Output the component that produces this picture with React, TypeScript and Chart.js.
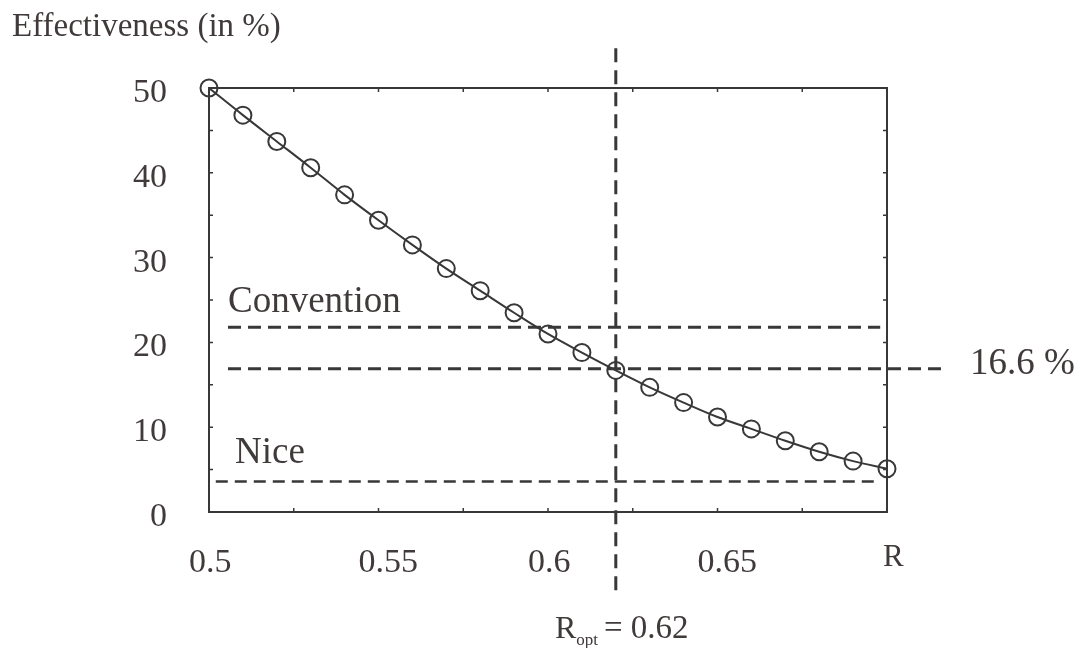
import React, { useEffect, useRef } from "react";
import { Chart, registerables } from "chart.js";

Chart.register(...registerables);

const rValues = [0.5, 0.51, 0.52, 0.53, 0.54, 0.55, 0.56, 0.57, 0.58, 0.59, 0.6, 0.61, 0.62, 0.63, 0.64, 0.65, 0.66, 0.67, 0.68, 0.69, 0.7];
const effectiveness = [50, 46.8, 43.7, 40.6, 37.4, 34.4, 31.5, 28.7, 26.1, 23.5, 21.0, 18.8, 16.7, 14.7, 12.9, 11.2, 9.8, 8.4, 7.1, 6.0, 5.1];

const xTickValues = [0.5, 0.55, 0.6, 0.65];
const xMinorTicks = [0.525, 0.55, 0.575, 0.6, 0.625, 0.65, 0.675];
const yMinorTicks = [5, 10, 15, 20, 25, 30, 35, 40, 45];

const conventionLevel = 21.8;
const conventionRange = [0.5056, 0.698];
const optimumLevel = 16.9;
const optimumRange = [0.5056, 0.7177];
const niceLevel = 3.6;
const niceRange = [0.502, 0.698];
const rOpt = 0.62;
const rOptRange = [54.7, -9.8];

const INK = "#383838";
const TEXT = "#403a3a";
const SERIF = "'Liberation Serif', 'Times New Roman', serif";

const framePlugin = {
  id: "frame",
  afterDatasetsDraw(chart: any) {
    const { ctx, chartArea } = chart;
    const xs = chart.scales.x;
    const ys = chart.scales.y;
    const { left, right, top, bottom } = chartArea;
    ctx.save();
    ctx.strokeStyle = INK;
    ctx.lineWidth = 2;
    ctx.beginPath();
    ctx.moveTo(left, top);
    ctx.lineTo(right, top);
    ctx.lineTo(right, bottom);
    ctx.lineTo(left, bottom);
    ctx.closePath();
    ctx.stroke();
    ctx.lineWidth = 1.5;
    ctx.beginPath();
    for (const v of xMinorTicks) {
      const px = xs.getPixelForValue(v);
      ctx.moveTo(px, bottom);
      ctx.lineTo(px, bottom - 4);
      ctx.moveTo(px, top);
      ctx.lineTo(px, top + 4);
    }
    for (const v of yMinorTicks) {
      const py = ys.getPixelForValue(v);
      ctx.moveTo(left, py);
      ctx.lineTo(left + 4, py);
      ctx.moveTo(right, py);
      ctx.lineTo(right - 4, py);
    }
    ctx.stroke();

    ctx.fillStyle = TEXT;
    ctx.textBaseline = "alphabetic";
    ctx.textAlign = "left";
    ctx.font = `33px ${SERIF}`;
    ctx.fillText("Effectiveness (in %)", 12, 36);

    ctx.font = `37px ${SERIF}`;
    ctx.fillText("Convention", 228, 312);
    ctx.fillText("Nice", 235, 463);
    ctx.fillText("16.6 %", 970, 374);

    ctx.font = `31px ${SERIF}`;
    ctx.fillText("R", 883, 566);

    ctx.font = `32px ${SERIF}`;
    ctx.fillText("R", 555, 638);
    const rw = ctx.measureText("R").width;
    ctx.font = `17px ${SERIF}`;
    ctx.fillText("opt", 555 + rw, 645);
    ctx.font = `33px ${SERIF}`;
    ctx.fillText("= 0.62", 604, 638);
    ctx.restore();
  },
};

export default function App() {
  const canvasRef = useRef<HTMLCanvasElement | null>(null);

  useEffect(() => {
    if (!canvasRef.current) return;
    const dashed = (pts: { x: number; y: number }[], width: number, dash: number[]) => ({
      data: pts,
      showLine: true,
      borderColor: INK,
      borderWidth: width,
      borderDash: dash,
      pointRadius: 0,
      pointHoverRadius: 0,
      clip: false as any,
      fill: false,
    });
    const chart = new Chart(canvasRef.current, {
      type: "scatter",
      data: {
        datasets: [
          dashed(conventionRange.map((x) => ({ x, y: conventionLevel })), 3, [13, 7]),
          dashed(optimumRange.map((x) => ({ x, y: optimumLevel })), 3, [13, 7]),
          dashed(niceRange.map((x) => ({ x, y: niceLevel })), 2.4, [12, 7]),
          dashed(rOptRange.map((y) => ({ x: rOpt, y })), 3, [14, 8]),
          {
            data: rValues.map((x, i) => ({ x, y: effectiveness[i] })),
            showLine: true,
            borderColor: INK,
            borderWidth: 2,
            backgroundColor: "rgba(0,0,0,0)",
            pointBorderColor: INK,
            pointBackgroundColor: "rgba(0,0,0,0)",
            pointBorderWidth: 2,
            pointRadius: 8.5,
            pointStyle: "circle",
            cubicInterpolationMode: "monotone",
            clip: false as any,
          } as any,
        ],
      },
      options: {
        animation: false,
        responsive: false,
        maintainAspectRatio: false,
        layout: { padding: { left: 0, right: 194, top: 88, bottom: 0 } },
        plugins: { legend: { display: false }, tooltip: { enabled: false } },
        events: [],
        scales: {
          x: {
            type: "linear",
            min: 0.5,
            max: 0.7,
            border: { display: false },
            grid: { display: false, drawTicks: false },
            afterBuildTicks: (scale: any) => {
              scale.ticks = xTickValues.map((value) => ({ value }));
            },
            afterFit: (scale: any) => {
              scale.height = 136;
            },
            ticks: {
              align: "start",
              labelOffset: -20,
              padding: 31,
              color: TEXT,
              font: { family: SERIF, size: 34 },
              callback: (v: any) => String(v),
            },
          },
          y: {
            type: "linear",
            min: 0,
            max: 50,
            border: { display: false },
            grid: { display: false, drawTicks: false },
            afterFit: (scale: any) => {
              scale.width = 209;
            },
            ticks: {
              stepSize: 10,
              padding: 42,
              labelOffset: 5,
              color: TEXT,
              font: { family: SERIF, size: 34 },
            },
          },
        },
      },
      plugins: [framePlugin],
    });
    return () => chart.destroy();
  }, []);

  return (
    <div style={{ position: "fixed", left: 0, top: 0, width: 1081, height: 648, background: "#fff" }}>
      <canvas ref={canvasRef} width={1081} height={648} style={{ width: 1081, height: 648, display: "block" }} />
    </div>
  );
}
